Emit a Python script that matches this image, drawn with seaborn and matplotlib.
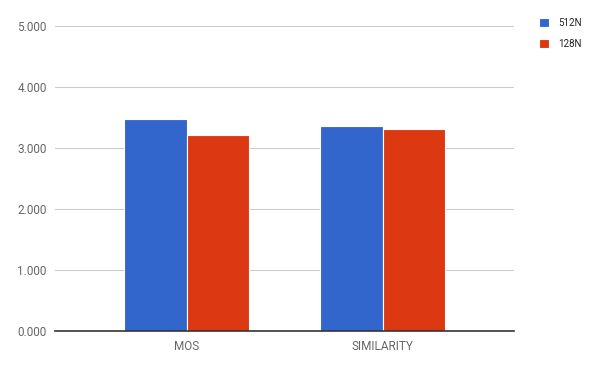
import pandas as pd
import seaborn as sns
import matplotlib.pyplot as plt

# data
categories = ["MOS", "SIMILARITY"]
series_names = ["512N", "128N"]
values_512n = [3.47, 3.355]
values_128n = [3.21, 3.32]
y_ticks = [0, 1, 2, 3, 4, 5]

colors = ["#3366CC", "#DC3912"]

df = pd.DataFrame({
    "category": categories * 2,
    "series": [series_names[0]] * 2 + [series_names[1]] * 2,
    "value": values_512n + values_128n,
})

sns.set_style("white")
plt.rcParams["font.family"] = ["Roboto", "DejaVu Sans"]

fig = plt.figure(figsize=(6, 3.71), dpi=100)
ax = fig.add_axes([0.092, 0.107, 0.765, 0.823])

sns.barplot(data=df, x="category", y="value", hue="series", palette=colors,
            saturation=1, width=0.64, edgecolor="white", linewidth=0.8,
            ax=ax, legend=True)

ax.set_xlim(-0.673, 1.673)
ax.set_ylim(0, 5)
ax.set_yticks(y_ticks)
ax.set_yticklabels([f"{t:.3f}" for t in y_ticks])
ax.yaxis.grid(True, color="#cccccc", linewidth=0.8)
ax.set_axisbelow(True)
for s in ["top", "right", "left"]:
    ax.spines[s].set_visible(False)
ax.spines["bottom"].set_color("#333333")
ax.spines["bottom"].set_linewidth(1.2)
ax.tick_params(axis="both", length=0, labelsize=8.5, colors="#666666", pad=6)
ax.set_xlabel("")
ax.set_ylabel("")

handles, labels = ax.get_legend_handles_labels()
ax.get_legend().remove()
fig.legend(handles, labels, loc="upper left", bbox_to_anchor=(0.883, 0.975),
           frameon=False, fontsize=7, handlelength=1.1, handleheight=1.1,
           handletextpad=0.9, labelspacing=1.1, labelcolor="#222222")

fig.savefig("out.png", dpi=100)
